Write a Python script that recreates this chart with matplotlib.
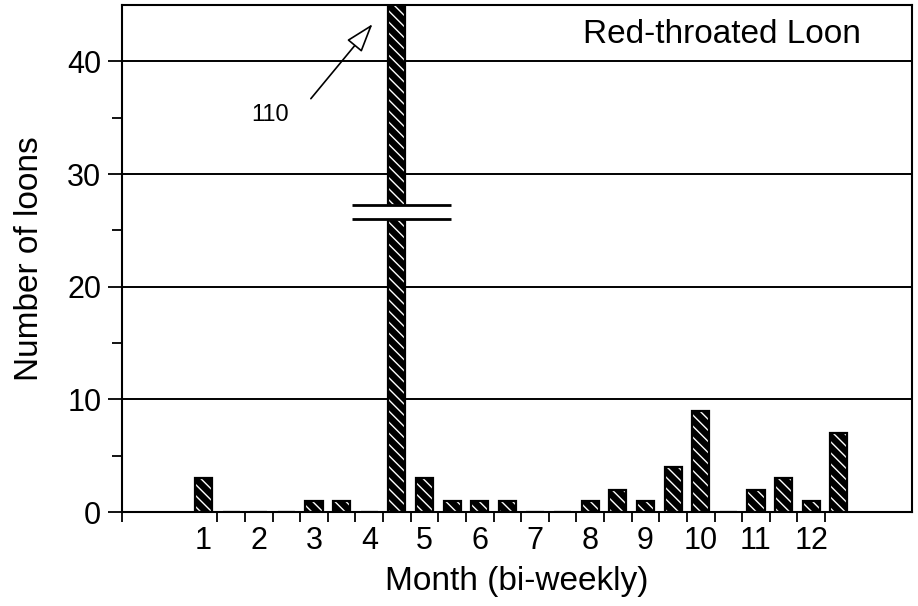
import matplotlib
matplotlib.use("Agg")
import matplotlib.pyplot as plt
import numpy as np

plt.rcParams['font.family'] = ['Liberation Sans', 'DejaVu Sans']
plt.rcParams['hatch.linewidth'] = 1.0

# bi-weekly counts, two bins per month (Jan first half ... Dec second half)
month_labels = ['1', '2', '3', '4', '5', '6', '7', '8', '9', '10', '11', '12']
counts = [3, 0, 0, 0, 1, 1, 0, 110, 3, 1, 1, 1,
          0, 0, 1, 2, 1, 4, 9, 0, 2, 3, 1, 7]
peak_label = '110'
species = 'Red-throated Loon'

x = np.arange(len(counts))

fig = plt.figure(figsize=(9.18, 6.06), dpi=100)
ax = fig.add_axes([0.133, 0.155, 0.8605, 0.8367])

# gridlines behind the bars
for yv in [10, 20, 30, 40]:
    ax.axhline(yv, color='black', lw=1.4, zorder=1)

# dark bars with thin white diagonal stripes, then a black outline on top
ax.bar(x, counts, width=0.62, color='black', edgecolor='white',
       linewidth=0, hatch='\\\\\\', zorder=2)
ax.bar(x, counts, width=0.62, color='none', edgecolor='black',
       linewidth=1.6, zorder=2.5)

ax.set_xlim(-2.95, 25.65)
ax.set_ylim(0, 45)

# axis break on the tall bar
peak = int(np.argmax(counts))
ax.fill_between([peak - 0.4, peak + 0.4], 26.0, 27.26, color='white', zorder=3)
for yb in (26.0, 27.26):
    ax.plot([peak - 1.62, peak + 1.97], [yb, yb], color='black', lw=2, zorder=4,
            solid_capstyle='butt')

ax.annotate('', xy=(peak - 0.82, 43.5), xytext=(peak - 3.18, 36.5),
            arrowprops=dict(arrowstyle='-|>,head_length=1.2,head_width=0.4',
                            fc='white', ec='black', lw=1.2, mutation_scale=15),
            zorder=5)
ax.text(peak - 4.59, 35.2, peak_label, ha='center', va='center', fontsize=17)

ax.text(0.759, 0.941, species, transform=ax.transAxes, ha='center',
        va='center', fontsize=24)

# ticks
ax.set_xticks(x[::2])
ax.set_xticklabels(month_labels, fontsize=22)
ax.tick_params(axis='x', which='major', length=0, pad=10)
ax.set_xticks(list(np.arange(0.5, len(counts) - 1, 1.0)) + [-2.95], minor=True)
ax.tick_params(axis='x', which='minor', length=7, width=1.3, direction='out')

ax.set_yticks([0, 10, 20, 30, 40])
ax.set_yticks([5, 15, 25, 35], minor=True)
ax.tick_params(axis='y', which='major', length=10, width=1.3, labelsize=22, pad=5)
ax.tick_params(axis='y', which='minor', length=7, width=1.3)

for sp in ax.spines.values():
    sp.set_linewidth(1.5)
    sp.set_color('black')

ax.set_xlabel('Month (bi-weekly)', fontsize=24, labelpad=7)
ax.set_ylabel('Number of loons', fontsize=24, labelpad=16)

fig.savefig('out.png', dpi=100)
